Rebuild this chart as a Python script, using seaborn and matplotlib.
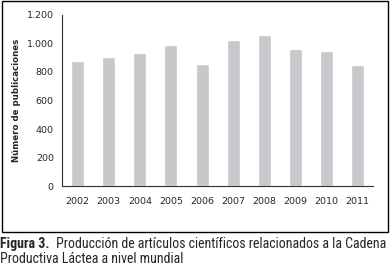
import numpy as np
import pandas as pd
import matplotlib
matplotlib.use("Agg")
import matplotlib.pyplot as plt
import seaborn as sns
from matplotlib import font_manager
from matplotlib.patches import Rectangle
from matplotlib.ticker import FuncFormatter, FixedLocator

# data
years = ['2002', '2003', '2004', '2005', '2006', '2007', '2008', '2009', '2010', '2011']
publicaciones = [877, 903, 934, 988, 856, 1025, 1062, 964, 945, 849]

df = pd.DataFrame({'Año': years, 'Publicaciones': publicaciones})

sns.set_style('white')
plt.rcParams['font.family'] = ['DejaVu Sans']

# caption font: narrow one if present, else Liberation Sans
cap_family = 'Liberation Sans'
for cand in ['Liberation Sans Narrow', 'DejaVu Sans Condensed', 'Roboto Condensed']:
    try:
        font_manager.findfont(cand, fallback_to_default=False)
        cap_family = cand
        break
    except ValueError:
        pass

fig = plt.figure(figsize=(3.91, 2.72), dpi=100)
ax = fig.add_axes([0.159, 0.316, 0.795, 0.629])

sns.barplot(data=df, x='Año', y='Publicaciones', color='#cac7cc',
            saturation=1, width=0.42, ax=ax)

ax.set_xlim(-0.5, len(years) - 0.5)
ax.set_ylim(0, 1200)
ax.set_yticks(range(0, 1201, 200))
ax.yaxis.set_major_formatter(FuncFormatter(lambda v, p: f'{int(v):,}'.replace(',', '.')))
ax.xaxis.set_minor_locator(FixedLocator(np.arange(-0.5, len(years), 1.0)))
ax.tick_params(axis='x', which='major', length=0, pad=8, labelsize=6.8)
ax.tick_params(axis='x', which='minor', length=3, width=0.7, direction='out', color='#404040')
ax.tick_params(axis='y', length=3, width=0.7, direction='out', labelsize=6.8, pad=3, color='#404040')

for s in ['top', 'right']:
    ax.spines[s].set_visible(False)
for s in ['left', 'bottom']:
    ax.spines[s].set_color('#303030')
    ax.spines[s].set_linewidth(0.8)

ax.set_xlabel('')
ax.set_ylabel('Número de publicaciones', fontsize=6.2, fontweight='bold', labelpad=4)

# frame around the chart
fig.patches.append(Rectangle((0.005, 0.147), 0.987, 0.849, transform=fig.transFigure,
                             fill=False, edgecolor='black', linewidth=1.0))

# caption, sized so the first line spans the figure width
size = 11
bold = fig.text(0.0, 0.088, 'Figura 3.', fontsize=size, fontweight='bold',
                family=cap_family, va='baseline')
rest = fig.text(0.0, 0.088, 'Producción de artículos científicos relacionados a la Cadena',
                fontsize=size, family=cap_family, va='baseline')
line2 = fig.text(0.0, 0.033, 'Productiva Láctea a nivel mundial',
                 fontsize=size, family=cap_family, va='baseline')
fig.canvas.draw()
r = fig.canvas.get_renderer()
total = bold.get_window_extent(r).width + rest.get_window_extent(r).width + 8
size = min(size * 386 / total, 10.5)
for t in (bold, rest, line2):
    t.set_fontsize(size)
fig.canvas.draw()
rw = rest.get_window_extent(r).width
rest.set_x((386 - rw) / 391)

fig.savefig('out.png', dpi=100)
